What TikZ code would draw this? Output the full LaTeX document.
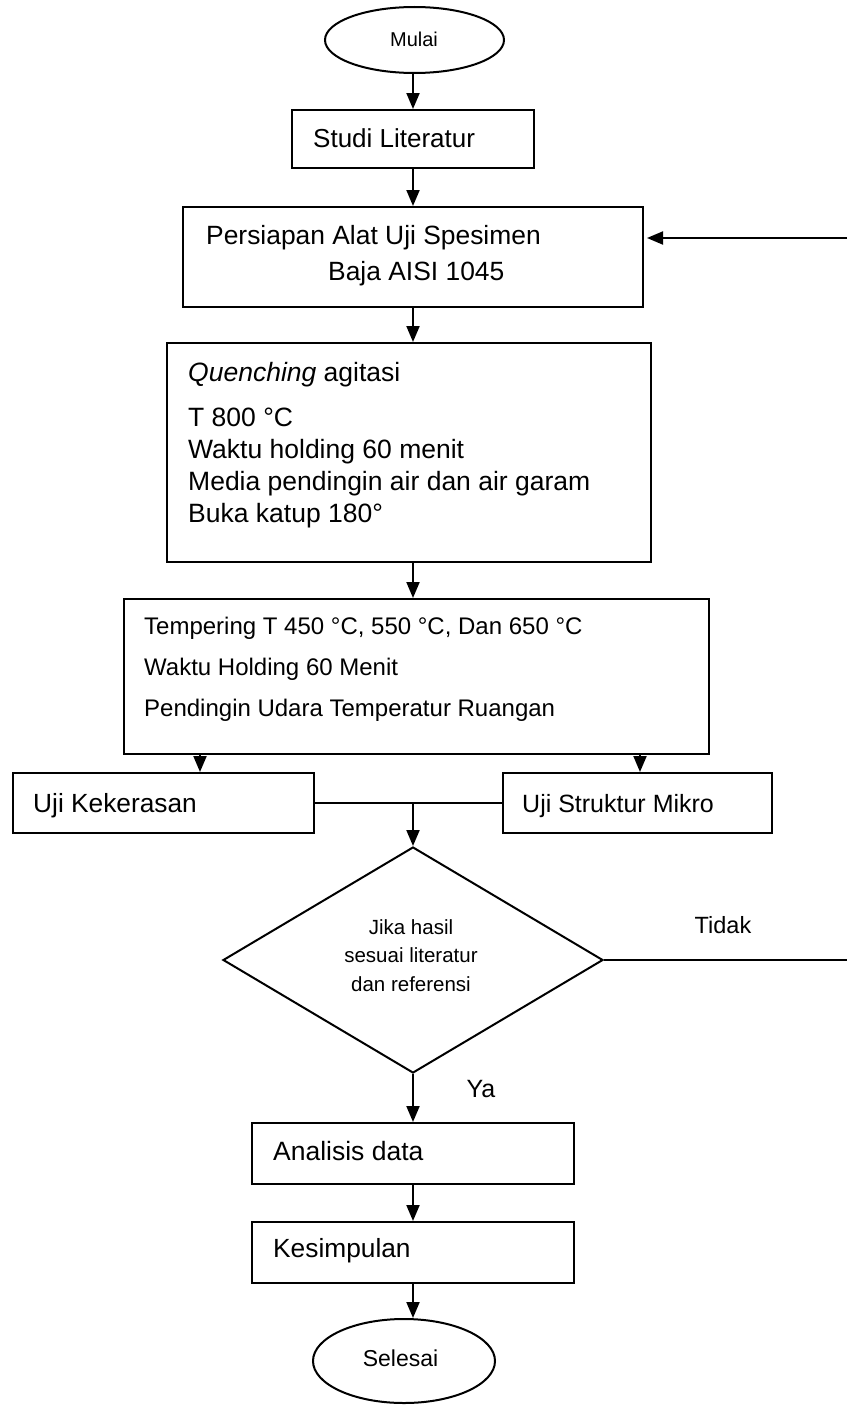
\documentclass[tikz,border=0pt]{standalone}
\usepackage{fontspec}
\setmainfont{Liberation Sans}
\usetikzlibrary{shapes.geometric,arrows.meta}
\newcommand{\fs}[1]{\fontsize{#1}{#1}\selectfont}
\begin{document}
\begin{tikzpicture}[x=1pt,y=-1pt,
  box/.style={draw,line width=2pt,rectangle,inner sep=0pt},
  oval/.style={draw,line width=2pt,ellipse,inner sep=0pt},
  conn/.style={line width=2pt},
  arr/.style={line width=2pt,-{Triangle[length=16pt,width=13pt]}},
  txt/.style={inner sep=0pt,anchor=base west},
  ctxt/.style={inner sep=0pt,anchor=base}]
\useasboundingbox (0,0) rectangle (847,1405);
% shapes
\node[oval,minimum width=179pt,minimum height=66pt] (mulai) at (414.5,40) {};
\node[box,minimum width=242pt,minimum height=58pt] (studi) at (413,139) {};
\node[box,minimum width=460pt,minimum height=100pt] (persiapan) at (413,257) {};
\node[box,minimum width=484pt,minimum height=219pt] (quench) at (409,452.5) {};
\node[box,minimum width=585pt,minimum height=155pt] (temper) at (416.5,676.5) {};
\node[box,minimum width=301pt,minimum height=60pt] (ujik) at (163.5,803) {};
\node[box,minimum width=269pt,minimum height=60pt] (ujis) at (637.5,803) {};
\node[draw,line width=2pt,diamond,inner sep=0pt,minimum width=380pt,minimum height=226pt] (dia) at (413,960) {};
\node[box,minimum width=322pt,minimum height=61pt] (analisis) at (413,1153.5) {};
\node[box,minimum width=322pt,minimum height=61pt] (kesim) at (413,1252.5) {};
\node[oval,minimum width=182pt,minimum height=84pt] (selesai) at (404,1361) {};
% texts
\node[ctxt] (tmulai) at (414,47) {\fs{20}Mulai};
\node[txt] (tstudi) at (313,147) {\fs{26}Studi Literatur};
\node[txt] (tpers1) at (206,244) {\fs{26.4}Persiapan Alat Uji Spesimen};
\node[txt] (tpers2) at (328,280) {\fs{26.4}Baja AISI 1045};
\node[txt] (tq1) at (188,381) {\fs{26.5}\textit{Quenching} agitasi};
\node[txt] (tq2) at (188,426) {\fs{26.5}T 800 °C};
\node[txt] (tq3) at (188,458) {\fs{26.5}Waktu holding 60 menit};
\node[txt] (tq4) at (188,490) {\fs{26.5}Media pendingin air dan air garam};
\node[txt] (tq5) at (188,522) {\fs{26.5}Buka katup 180°};
\node[txt] (tt1) at (144,634) {\fs{24}Tempering T 450 °C, 550 °C, Dan 650 °C};
\node[txt] (tt2) at (144,675) {\fs{24}Waktu Holding 60 Menit};
\node[txt] (tt3) at (144,716) {\fs{24}Pendingin Udara Temperatur Ruangan};
\node[txt] (tujik) at (33,812) {\fs{26.3}Uji Kekerasan};
\node[txt] (tujis) at (522,812) {\fs{25}Uji Struktur Mikro};
\node[ctxt] (td1) at (411,934) {\fs{20.5}Jika hasil};
\node[ctxt] (td2) at (411,962) {\fs{20.5}sesuai literatur};
\node[ctxt] (td3) at (411,991) {\fs{20.5}dan referensi};
\node[ctxt] (ttidak) at (723,933) {\fs{23.5}Tidak};
\node[ctxt] (tya) at (481,1097) {\fs{25}Ya};
\node[txt] (tanal) at (273,1160) {\fs{26.5}Analisis data};
\node[txt] (tkes) at (273,1257) {\fs{26.3}Kesimpulan};
\node[ctxt] (tsel) at (400.5,1366) {\fs{23}Selesai};
% helper coordinates
\coordinate (ax) at (413,0);
\coordinate (kx) at (200,0);
\coordinate (sx) at (640,0);
\coordinate (jn) at (413,803);
\coordinate (fbbot) at (847,960);
\coordinate (fbtop) at (847,238);
% connectors
\draw[arr] (ax |- mulai.south) -- (ax |- studi.north);
\draw[arr] (ax |- studi.south) -- (ax |- persiapan.north);
\draw[arr] (ax |- persiapan.south) -- (ax |- quench.north);
\draw[arr] (ax |- quench.south) -- (ax |- temper.north);
\draw[arr] (kx |- temper.south) -- (kx |- ujik.north);
\draw[arr] (sx |- temper.south) -- (sx |- ujis.north);
\draw[conn] (ujik.east) -- (jn) -- (ujis.west);
\draw[arr] (jn) -- (dia.north);
\draw[arr] (dia.south) -- (analisis.north);
\draw[arr] (analisis.south) -- (kesim.north);
\draw[arr] (kesim.south) -- (kesim.south |- selesai.north);
\draw[conn] (dia.east) -- (fbbot);
\draw[arr,shorten >=3pt] (fbtop) -- (fbtop -| persiapan.east);
\end{tikzpicture}
\end{document}
